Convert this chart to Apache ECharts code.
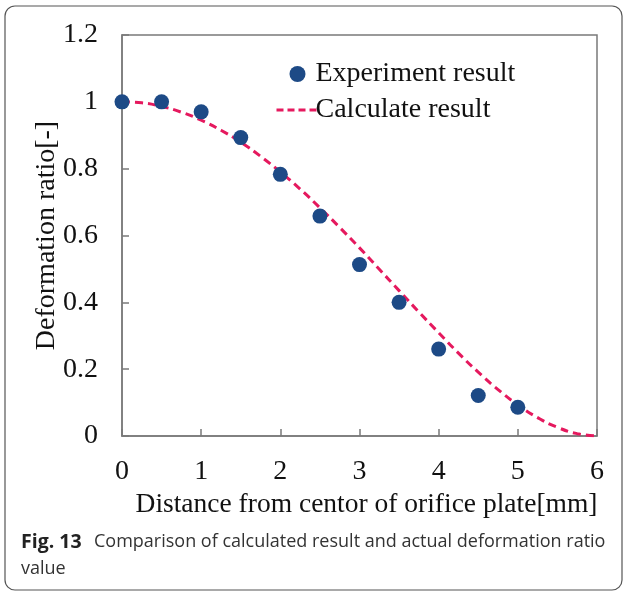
<!DOCTYPE html>
<html>
<head>
<meta charset="utf-8">
<script src="https://cdn.jsdelivr.net/npm/echarts@6/dist/echarts.min.js"></script>
<style>
html,body{margin:0;padding:0;background:#fff;}
#chart{width:624px;height:592px;}
</style>
</head>
<body>
<div id="chart"></div>
<script>
// Experiment points
var expX = [0, 0.5, 1, 1.5, 2, 2.5, 3, 3.5, 4, 4.5, 5];
var expY = [1.0, 1.0, 0.97, 0.893, 0.783, 0.658, 0.513, 0.40, 0.26, 0.121, 0.086];
// Calculated curve
var calcX = [0, 0.25, 0.5, 0.75, 1, 1.25, 1.5, 1.75, 2, 2.25, 2.5, 2.75, 3, 3.25, 3.5, 3.75, 4, 4.25, 4.5, 4.75, 5, 5.25, 5.5, 5.75, 6];
var calcY = [1.0, 0.997, 0.986, 0.969, 0.945, 0.915, 0.879, 0.837, 0.790, 0.739, 0.683, 0.624, 0.563, 0.499, 0.435, 0.371, 0.309, 0.248, 0.191, 0.139, 0.093, 0.055, 0.026, 0.007, 0.0];
var xTicks = [0, 1, 2, 3, 4, 5, 6];
var yTicks = [0, 0.2, 0.4, 0.6, 0.8, 1, 1.2];

var serif = '"Liberation Serif", "Times New Roman", serif';
var sans = '"Open Sans", "Noto Sans", sans-serif';
var chart = echarts.init(document.getElementById('chart'), null, {renderer: 'canvas'});
var expData = expX.map(function (x, i) { return [x, expY[i]]; });
var calcData = calcX.map(function (x, i) { return [x, calcY[i]]; });

chart.setOption({
  animation: false,
  backgroundColor: '#fff',
  textStyle: {fontFamily: serif},
  grid: {left: 122, right: 27, top: 35, bottom: 156, show: true, borderColor: '#7a7a7a', borderWidth: 1.5, backgroundColor: 'transparent'},
  legend: {
    orient: 'vertical', left: 270, top: 55, itemGap: 8,
    itemWidth: 42, itemHeight: 16,
    textStyle: {fontFamily: serif, fontSize: 28, color: '#111', padding: [0, 0, 0, -8]},
    data: [
      {name: 'Experiment result'},
      {name: 'Calculate result', itemStyle: {opacity: 0}, lineStyle: {type: [7, 4], width: 3, color: '#e5195e'}}
    ]
  },
  xAxis: {
    type: 'value', min: 0, max: 6, interval: 1,
    name: 'Distance from centor of orifice plate[mm]', nameLocation: 'middle', nameGap: 54,
    nameTextStyle: {fontFamily: serif, fontSize: 27.5, color: '#111', padding: [0, 0, 0, 14]},
    axisLine: {show: true, lineStyle: {color: '#7a7a7a', width: 1.5}},
    axisTick: {show: true, inside: true, length: 7, lineStyle: {color: '#7a7a7a', width: 1.5}},
    axisLabel: {fontFamily: serif, fontSize: 28, color: '#111', margin: 22, formatter: function (v) { return String(v); }},
    splitLine: {show: false}
  },
  yAxis: {
    type: 'value', min: 0, max: 1.2, interval: 0.2,
    name: 'Deformation ratio[-]', nameLocation: 'middle', nameGap: 61, nameRotate: 90,
    nameMoveOverlap: false,
    nameTextStyle: {fontFamily: serif, fontSize: 28, color: '#111'},
    axisLine: {show: true, lineStyle: {color: '#7a7a7a', width: 1.5}},
    axisTick: {show: true, inside: true, length: 7, lineStyle: {color: '#7a7a7a', width: 1.5}},
    axisLabel: {fontFamily: serif, fontSize: 28, color: '#111', margin: 24,
      formatter: function (v) { return String(Math.round(v * 10) / 10); }},
    splitLine: {show: false}
  },
  series: [
    {
      name: 'Calculate result', type: 'line', data: calcData, smooth: true,
      showSymbol: false, symbol: 'none', z: 2,
      lineStyle: {color: '#e5195e', width: 3, type: [8, 5]},
      itemStyle: {color: '#e5195e'}
    },
    {
      name: 'Experiment result', type: 'scatter', data: expData, symbol: 'circle', symbolSize: 15, z: 3,
      itemStyle: {color: '#1d4a86', opacity: 1}
    }
  ],
  graphic: [
    {type: 'rect', shape: {x: 5, y: 6, width: 617, height: 584, r: 10}, style: {fill: 'none', stroke: '#555', lineWidth: 1.2}, z: -1},
    {type: 'text', left: 21, top: 532, style: {text: 'Fig. 13', font: 'bold 19.5px ' + sans, fill: '#222'}},
    {type: 'text', left: 94, top: 533, style: {text: 'Comparison of calculated result and actual deformation ratio', font: '18px ' + sans, fill: '#333'}},
    {type: 'text', left: 21, top: 560, style: {text: 'value', font: '18px ' + sans, fill: '#333'}}
  ]
});
</script>
</body>
</html>
